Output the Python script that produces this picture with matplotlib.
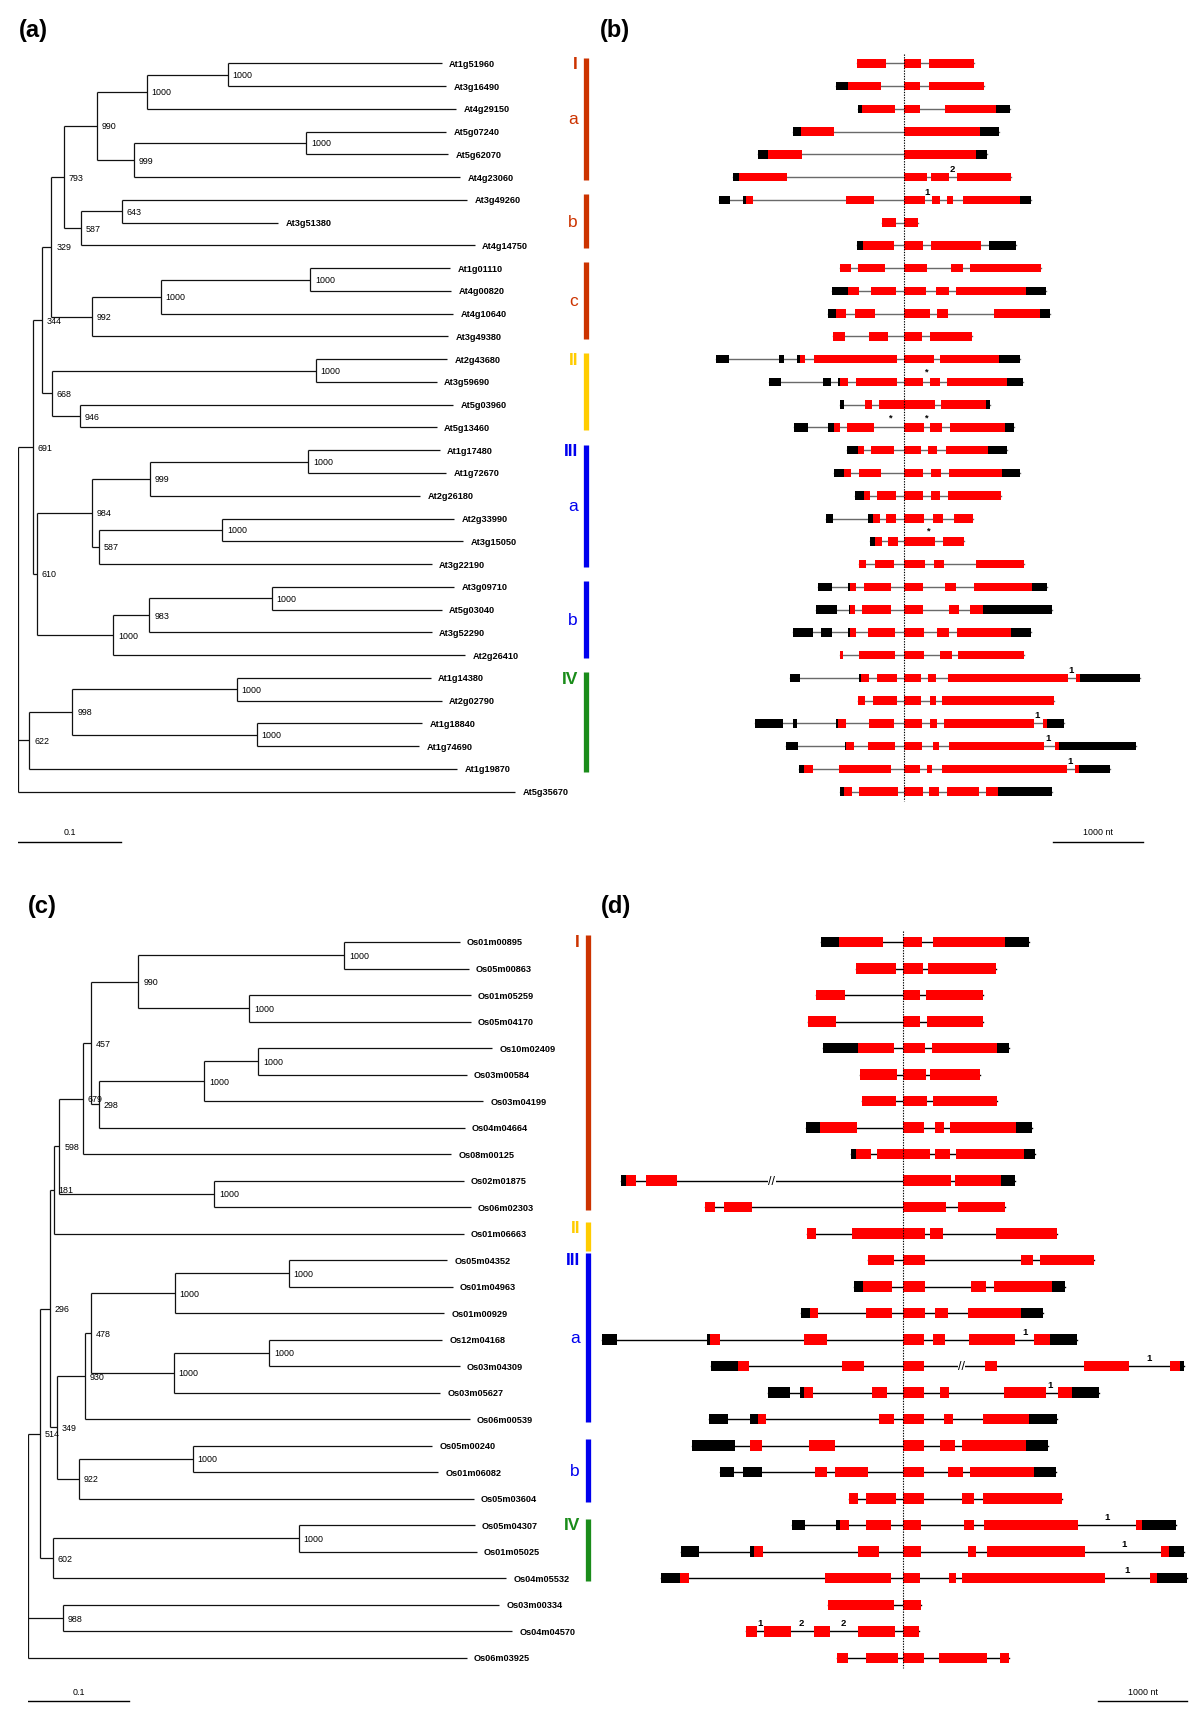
import matplotlib.pyplot as plt

plt.rcParams['font.family'] = ['Liberation Sans', 'DejaVu Sans']

# ---------------- data: Arabidopsis tree (a) ----------------
a_leaves = ['At1g51960', 'At3g16490', 'At4g29150', 'At5g07240', 'At5g62070', 'At4g23060',
            'At3g49260', 'At3g51380', 'At4g14750', 'At1g01110', 'At4g00820', 'At4g10640',
            'At3g49380', 'At2g43680', 'At3g59690', 'At5g03960', 'At5g13460', 'At1g17480',
            'At1g72670', 'At2g26180', 'At2g33990', 'At3g15050', 'At3g22190', 'At3g09710',
            'At5g03040', 'At3g52290', 'At2g26410', 'At1g14380', 'At2g02790', 'At1g18840',
            'At1g74690', 'At1g19870', 'At5g35670']
# distance from root of each leaf tip
a_tips = [0.414, 0.418, 0.428, 0.418, 0.420, 0.432, 0.439, 0.254, 0.446, 0.422, 0.423,
          0.425, 0.420, 0.419, 0.409, 0.425, 0.409, 0.412, 0.418, 0.393, 0.426, 0.435,
          0.404, 0.426, 0.414, 0.404, 0.437, 0.403, 0.414, 0.395, 0.392, 0.429, 0.486]
# internal nodes: (id, distance from root, children, bootstrap)
a_nodes = [
    ('n1', 0.2047, ['At1g51960', 'At3g16490'], '1000'),
    ('n2', 0.1254, ['n1', 'At4g29150'], '1000'),
    ('n3', 0.2814, ['At5g07240', 'At5g62070'], '1000'),
    ('n4', 0.1130, ['n3', 'At4g23060'], '999'),
    ('n5', 0.0771, ['n2', 'n4'], '990'),
    ('n6', 0.1011, ['At3g49260', 'At3g51380'], '643'),
    ('n7', 0.0610, ['n6', 'At4g14750'], '587'),
    ('n8', 0.0442, ['n5', 'n7'], '793'),
    ('n9', 0.2855, ['At1g01110', 'At4g00820'], '1000'),
    ('n10', 0.1392, ['n9', 'At4g10640'], '1000'),
    ('n11', 0.0722, ['n10', 'At3g49380'], '992'),
    ('n12', 0.0323, ['n8', 'n11'], '329'),
    ('n13', 0.2907, ['At2g43680', 'At3g59690'], '1000'),
    ('n14', 0.0599, ['At5g03960', 'At5g13460'], '946'),
    ('n15', 0.0329, ['n13', 'n14'], '668'),
    ('n16', 0.0233, ['n12', 'n15'], '344'),
    ('n17', 0.2833, ['At1g17480', 'At1g72670'], '1000'),
    ('n18', 0.1287, ['n17', 'At2g26180'], '999'),
    ('n19', 0.1991, ['At2g33990', 'At3g15050'], '1000'),
    ('n20', 0.0786, ['n19', 'At3g22190'], '587'),
    ('n21', 0.0722, ['n18', 'n20'], '984'),
    ('n22', 0.2477, ['At3g09710', 'At5g03040'], '1000'),
    ('n23', 0.1281, ['n22', 'At3g52290'], '983'),
    ('n24', 0.0929, ['n23', 'At2g26410'], '1000'),
    ('n25', 0.0184, ['n21', 'n24'], '610'),
    ('n26', 0.0140, ['n16', 'n25'], '691'),
    ('n27', 0.2137, ['At1g14380', 'At2g02790'], '1000'),
    ('n28', 0.2331, ['At1g18840', 'At1g74690'], '1000'),
    ('n29', 0.0528, ['n27', 'n28'], '998'),
    ('n30', 0.0109, ['n29', 'At1g19870'], '622'),
    ('root', 0.0, ['n26', 'n30', 'At5g35670'], ''),
]
# clades: (main label, sub label, first leaf, last leaf, colour key)
a_clades = [('I', 'a', 0, 5, 'I'), ('', 'b', 6, 8, 'I'), ('', 'c', 9, 12, 'I'),
            ('II', '', 13, 16, 'II'), ('III', 'a', 17, 22, 'III'), ('', 'b', 23, 26, 'III'),
            ('IV', '', 27, 31, 'IV')]

# ---------------- data: Arabidopsis gene structures (b) ----------------
# exon blocks in nt relative to the conserved intron (dotted line); c = coding, u = UTR
b_genes = [
    [(-525, -196, 'c'), (0, 190, 'c'), (280, 780, 'c')],
    [(-760, -620, 'u'), (-620, -260, 'c'), (0, 175, 'c'), (280, 885, 'c')],
    [(-510, -465, 'u'), (-465, -95, 'c'), (0, 175, 'c'), (460, 1020, 'c'), (1020, 1180, 'u')],
    [(-1230, -1140, 'u'), (-1140, -780, 'c'), (0, 845, 'c'), (845, 1055, 'u')],
    [(-1625, -1515, 'u'), (-1515, -1130, 'c'), (0, 800, 'c'), (800, 925, 'u')],
    [(-1900, -1830, 'u'), (-1830, -1300, 'c'), (0, 255, 'c'), (300, 505, 'c'), (585, 1190, 'c')],
    [(-2055, -1930, 'u'), (-1790, -1755, 'u'), (-1755, -1675, 'c'), (-650, -330, 'c'), (0, 230, 'c'),
     (310, 400, 'c'), (475, 540, 'c'), (650, 1285, 'c'), (1285, 1410, 'u')],
    [(-240, -85, 'c'), (0, 160, 'c')],
    [(-525, -460, 'u'), (-460, -115, 'c'), (0, 215, 'c'), (300, 860, 'c'), (940, 1240, 'u')],
    [(-715, -590, 'c'), (-510, -210, 'c'), (0, 255, 'c'), (520, 660, 'c'), (730, 1520, 'c')],
    [(-800, -620, 'u'), (-620, -500, 'c'), (-370, -85, 'c'), (0, 245, 'c'), (360, 500, 'c'),
     (580, 1355, 'c'), (1355, 1580, 'u')],
    [(-840, -755, 'u'), (-755, -640, 'c'), (-545, -320, 'c'), (0, 285, 'c'), (365, 490, 'c'),
     (1000, 1510, 'c'), (1510, 1620, 'u')],
    [(-790, -655, 'c'), (-390, -175, 'c'), (0, 200, 'c'), (290, 760, 'c')],
    [(-2090, -1940, 'u'), (-1390, -1330, 'u'), (-1190, -1160, 'u'), (-1160, -1095, 'c'), (-995, -80, 'c'),
     (0, 330, 'c'), (400, 1055, 'c'), (1055, 1290, 'u')],
    [(-1500, -1370, 'u'), (-900, -810, 'u'), (-735, -710, 'u'), (-710, -625, 'c'), (-535, -75, 'c'),
     (0, 215, 'c'), (290, 405, 'c'), (475, 1145, 'c'), (1145, 1320, 'u')],
    [(-715, -665, 'u'), (-435, -360, 'c'), (-275, 345, 'c'), (410, 915, 'c'), (915, 960, 'u')],
    [(-1225, -1070, 'u'), (-840, -780, 'u'), (-780, -710, 'c'), (-630, -330, 'c'), (0, 220, 'c'),
     (290, 425, 'c'), (510, 1120, 'c'), (1120, 1220, 'u')],
    [(-630, -510, 'u'), (-510, -445, 'c'), (-370, -115, 'c'), (0, 185, 'c'), (265, 370, 'c'),
     (465, 935, 'c'), (935, 1140, 'u')],
    [(-775, -665, 'u'), (-665, -590, 'c'), (-505, -260, 'c'), (0, 215, 'c'), (300, 410, 'c'),
     (505, 1090, 'c'), (1090, 1290, 'u')],
    [(-545, -445, 'u'), (-445, -380, 'c'), (-295, -85, 'c'), (0, 215, 'c'), (295, 400, 'c'), (485, 1080, 'c')],
    [(-870, -790, 'u'), (-395, -350, 'u'), (-350, -270, 'c'), (-205, -85, 'c'), (0, 225, 'c'),
     (325, 435, 'c'), (555, 770, 'c')],
    [(-380, -325, 'u'), (-325, -250, 'c'), (-175, -65, 'c'), (0, 340, 'c'), (435, 670, 'c')],
    [(-500, -425, 'c'), (-320, -110, 'c'), (0, 230, 'c'), (335, 445, 'c'), (795, 1335, 'c')],
    [(-955, -800, 'u'), (-620, -595, 'u'), (-595, -535, 'c'), (-440, -145, 'c'), (0, 215, 'c'),
     (455, 580, 'c'), (780, 1420, 'c'), (1420, 1590, 'u')],
    [(-975, -745, 'u'), (-615, -600, 'u'), (-600, -550, 'c'), (-470, -150, 'c'), (0, 215, 'c'),
     (500, 615, 'c'), (730, 880, 'c'), (880, 1640, 'u')],
    [(-1230, -1010, 'u'), (-920, -805, 'u'), (-625, -600, 'u'), (-600, -530, 'c'), (-405, -95, 'c'),
     (0, 220, 'c'), (370, 495, 'c'), (585, 1190, 'c'), (1190, 1410, 'u')],
    [(-715, -680, 'c'), (-505, -95, 'c'), (0, 220, 'c'), (405, 530, 'c'), (605, 1335, 'c')],
    [(-1270, -1155, 'u'), (-500, -475, 'u'), (-475, -385, 'c'), (-305, -75, 'c'), (0, 185, 'c'),
     (270, 360, 'c'), (490, 1825, 'c'), (1915, 1955, 'c'), (1955, 2625, 'u')],
    [(-510, -435, 'c'), (-340, -75, 'c'), (0, 185, 'c'), (285, 355, 'c'), (425, 1670, 'c')],
    [(-1655, -1345, 'u'), (-1230, -1185, 'u'), (-760, -735, 'u'), (-735, -650, 'c'), (-385, -110, 'c'),
     (0, 205, 'c'), (290, 365, 'c'), (440, 1445, 'c'), (1540, 1585, 'c'), (1585, 1775, 'u')],
    [(-1315, -1180, 'u'), (-660, -645, 'u'), (-645, -555, 'c'), (-395, -105, 'c'), (0, 200, 'c'),
     (325, 385, 'c'), (505, 1550, 'c'), (1680, 1725, 'c'), (1725, 2580, 'u')],
    [(-1170, -1115, 'u'), (-1115, -1015, 'c'), (-725, -140, 'c'), (0, 175, 'c'), (255, 310, 'c'),
     (425, 1815, 'c'), (1905, 1940, 'c'), (1940, 2285, 'u')],
    [(-710, -665, 'u'), (-665, -580, 'c'), (-500, -65, 'c'), (0, 215, 'c'), (280, 390, 'c'),
     (475, 835, 'c'), (910, 1040, 'c'), (1040, 1640, 'u')],
]
# marks on the gene models: (gene index, nt, text, above/below)
b_marks = [(5, 538, '2', 'up'), (6, 257, '1', 'up'), (13, 243, '*', 'down'),
           (15, -160, '*', 'down'), (15, 248, '*', 'down'), (20, 270, '*', 'down'),
           (27, 1860, '1', 'up'), (29, 1474, '1', 'up'), (30, 1602, '1', 'up'), (31, 1847, '1', 'up')]

# ---------------- data: rice tree (c) ----------------
c_leaves = ['Os01m00895', 'Os05m00863', 'Os01m05259', 'Os05m04170', 'Os10m02409', 'Os03m00584',
            'Os03m04199', 'Os04m04664', 'Os08m00125', 'Os02m01875', 'Os06m02303', 'Os01m06663',
            'Os05m04352', 'Os01m04963', 'Os01m00929', 'Os12m04168', 'Os03m04309', 'Os03m05627',
            'Os06m00539', 'Os05m00240', 'Os01m06082', 'Os05m03604', 'Os05m04307', 'Os01m05025',
            'Os04m05532', 'Os03m00334', 'Os04m04570', 'Os06m03925']
c_tips = [0.427, 0.436, 0.438, 0.438, 0.459, 0.434, 0.450, 0.432, 0.419, 0.431, 0.438, 0.431,
          0.415, 0.420, 0.412, 0.410, 0.427, 0.408, 0.437, 0.400, 0.406, 0.441, 0.442, 0.444,
          0.473, 0.466, 0.479, 0.434]
c_nodes = [
    ('m1', 0.3130, ['Os01m00895', 'Os05m00863'], '1000'),
    ('m2', 0.2190, ['Os01m05259', 'Os05m04170'], '1000'),
    ('m3', 0.1091, ['m1', 'm2'], '990'),
    ('m4', 0.2277, ['Os10m02409', 'Os03m00584'], '1000'),
    ('m5', 0.1740, ['m4', 'Os03m04199'], '1000'),
    ('m6', 0.0697, ['m5', 'Os04m04664'], '298'),
    ('m7', 0.0618, ['m3', 'm6'], '457'),
    ('m8', 0.0539, ['m7', 'Os08m00125'], '679'),
    ('m9', 0.1842, ['Os02m01875', 'Os06m02303'], '1000'),
    ('m10', 0.0307, ['m8', 'm9'], '598'),
    ('m11', 0.0250, ['m10', 'Os01m06663'], '181'),
    ('m12', 0.2580, ['Os05m04352', 'Os01m04963'], '1000'),
    ('m13', 0.1451, ['m12', 'Os01m00929'], '1000'),
    ('m14', 0.2383, ['Os12m04168', 'Os03m04309'], '1000'),
    ('m15', 0.1440, ['m14', 'Os03m05627'], '1000'),
    ('m16', 0.0618, ['m13', 'm15'], '478'),
    ('m17', 0.0561, ['m16', 'Os06m00539'], '930'),
    ('m18', 0.1630, ['Os05m00240', 'Os01m06082'], '1000'),
    ('m19', 0.0500, ['m18', 'Os05m03604'], '922'),
    ('m20', 0.0280, ['m17', 'm19'], '349'),
    ('m21', 0.0213, ['m11', 'm20'], '296'),
    ('m22', 0.2679, ['Os05m04307', 'Os01m05025'], '1000'),
    ('m23', 0.0243, ['m22', 'Os04m05532'], '602'),
    ('m24', 0.0114, ['m21', 'm23'], '514'),
    ('m25', 0.0342, ['Os03m00334', 'Os04m04570'], '988'),
    ('root', 0.0, ['m24', 'm25', 'Os06m03925'], ''),
]
c_clades = [('I', '', 0, 10, 'I'), ('II', '', 11, 11, 'II'), ('III', 'a', 12, 18, 'III'),
            ('', 'b', 19, 21, 'III'), ('IV', '', 22, 24, 'IV')]

# ---------------- data: rice gene structures (d) ----------------
d_genes = [
    [(-915, -715, 'u'), (-715, -225, 'c'), (0, 220, 'c'), (340, 1150, 'c'), (1150, 1425, 'u')],
    [(-525, -70, 'c'), (0, 225, 'c'), (290, 1045, 'c')],
    [(-970, -650, 'c'), (0, 190, 'c'), (260, 900, 'c')],
    [(-1060, -750, 'c'), (0, 190, 'c'), (270, 905, 'c')],
    [(-890, -500, 'u'), (-500, -100, 'c'), (0, 250, 'c'), (335, 1065, 'c'), (1065, 1195, 'u')],
    [(-480, -60, 'c'), (0, 260, 'c'), (305, 865, 'c')],
    [(-455, -70, 'c'), (0, 275, 'c'), (340, 1060, 'c')],
    [(-1085, -930, 'u'), (-930, -510, 'c'), (0, 240, 'c'), (365, 470, 'c'), (535, 1275, 'c'), (1275, 1455, 'u')],
    [(-580, -525, 'u'), (-525, -350, 'c'), (-290, 305, 'c'), (360, 535, 'c'), (600, 1365, 'c'), (1365, 1490, 'u')],
    [(-3160, -3110, 'u'), (-3110, -3000, 'c'), (-2880, -2530, 'c'), (0, 540, 'c'), (585, 1100, 'c'), (1100, 1260, 'u')],
    [(-2225, -2105, 'c'), (-2005, -1690, 'c'), (0, 485, 'c'), (625, 1155, 'c')],
    [(-1070, -975, 'c'), (-570, 250, 'c'), (310, 450, 'c'), (1045, 1735, 'c')],
    [(-390, -100, 'c'), (0, 250, 'c'), (1330, 1465, 'c'), (1540, 2155, 'c')],
    [(-545, -440, 'u'), (-440, -115, 'c'), (0, 250, 'c'), (765, 940, 'c'), (1025, 1680, 'c'), (1680, 1820, 'u')],
    [(-1145, -1040, 'u'), (-1040, -955, 'c'), (-415, -115, 'c'), (0, 250, 'c'), (360, 505, 'c'),
     (735, 1330, 'c'), (1330, 1575, 'u')],
    [(-3380, -3210, 'u'), (-2200, -2160, 'u'), (-2160, -2055, 'c'), (-1105, -855, 'c'), (0, 245, 'c'),
     (345, 480, 'c'), (745, 1265, 'c'), (1480, 1655, 'c'), (1655, 1960, 'u')],
    [(-2155, -1845, 'u'), (-1845, -1730, 'c'), (-685, -430, 'c'), (0, 245, 'c'), (925, 1060, 'c'),
     (2040, 2540, 'c'), (3005, 3115, 'c'), (3115, 3160, 'u')],
    [(-1515, -1270, 'u'), (-1155, -1110, 'u'), (-1110, -1010, 'c'), (-345, -170, 'c'), (0, 245, 'c'),
     (415, 525, 'c'), (1140, 1610, 'c'), (1745, 1900, 'c'), (1900, 2210, 'u')],
    [(-2170, -1965, 'u'), (-1710, -1625, 'u'), (-1625, -1540, 'c'), (-265, -95, 'c'), (0, 245, 'c'),
     (465, 570, 'c'), (900, 1415, 'c'), (1415, 1730, 'u')],
    [(-2370, -1885, 'u'), (-1710, -1575, 'c'), (-1050, -755, 'c'), (0, 245, 'c'), (415, 585, 'c'),
     (665, 1385, 'c'), (1385, 1635, 'u')],
    [(-2050, -1900, 'u'), (-1790, -1580, 'u'), (-985, -855, 'c'), (-755, -390, 'c'), (0, 245, 'c'),
     (505, 675, 'c'), (755, 1475, 'c'), (1475, 1725, 'u')],
    [(-600, -500, 'c'), (-410, -70, 'c'), (0, 235, 'c'), (670, 805, 'c'), (900, 1790, 'c')],
    [(-1240, -1095, 'u'), (-745, -705, 'u'), (-705, -600, 'c'), (-415, -135, 'c'), (0, 205, 'c'),
     (695, 800, 'c'), (915, 1975, 'c'), (2620, 2695, 'c'), (2695, 3070, 'u')],
    [(-2490, -2285, 'u'), (-1715, -1670, 'u'), (-1670, -1570, 'c'), (-500, -260, 'c'), (0, 205, 'c'),
     (740, 820, 'c'), (950, 2055, 'c'), (2905, 2995, 'c'), (2995, 3160, 'u')],
    [(-2715, -2505, 'u'), (-2505, -2405, 'c'), (-870, -130, 'c'), (0, 200, 'c'), (520, 600, 'c'),
     (665, 2270, 'c'), (2775, 2860, 'c'), (2860, 3195, 'u')],
    [(-835, -100, 'c'), (0, 205, 'c')],
    [(-1760, -1635, 'c'), (-1555, -1255, 'c'), (-990, -815, 'c'), (-500, -85, 'c'), (0, 180, 'c')],
    [(-735, -615, 'c'), (-415, -55, 'c'), (0, 245, 'c'), (405, 950, 'c'), (1090, 1195, 'c')],
]
d_marks = [(15, 1378, '1', 'up'), (16, 2773, '1', 'up'), (17, 1662, '1', 'up'),
           (22, 2297, '1', 'up'), (23, 2493, '1', 'up'), (24, 2520, '1', 'up'),
           (26, -1604, '1', 'up'), (26, -1133, '2', 'up'), (26, -662, '2', 'up')]
# broken (shortened) introns: (gene index, nt)
d_breaks = [(9, -1470), (16, 662)]

clade_colors = {'I': '#CC3300', 'II': '#FFCC00', 'III': '#0000EE', 'IV': '#1A8C1A'}

# ---------------- layout (pixels of the 1200 x 1715 figure) ----------------
W, H = 1200, 1715
fig = plt.figure(figsize=(W / 100, H / 100), dpi=100)


def px_axes(left, top, right, bottom):
    ax = fig.add_axes([left / W, 1 - bottom / H, (right - left) / W, (bottom - top) / H])
    ax.axis('off')
    return ax


def draw_tree(ax, leaves, tips, nodes):
    pos = {}
    for i, (name, x) in enumerate(zip(leaves, tips)):
        pos[name] = (x, i)
        ax.annotate(name, (x, i), xytext=(5.3, 0), textcoords='offset points',
                    va='center', ha='left', fontsize=6.6, fontweight='bold')
    for name, depth, kids, support in nodes:
        ys = [pos[k][1] for k in kids]
        ax.plot([depth, depth], [min(ys), max(ys)], color='#111111', lw=0.9, solid_capstyle='butt')
        for k in kids:
            ax.plot([depth, pos[k][0]], [pos[k][1], pos[k][1]], color='#111111', lw=0.9,
                    solid_capstyle='butt')
        ymid = (min(ys) + max(ys)) / 2
        pos[name] = (depth, ymid)
        if support:
            ax.annotate(support, (depth, ymid), xytext=(3.5, 0), textcoords='offset points',
                        va='center', ha='left', fontsize=6.4)


def draw_clades(ax, clades, xbar, xtext):
    for main, sub, first, last, key in clades:
        col = clade_colors[key]
        if first == last:
            y0, y1 = first - 0.45, last + 0.65
        else:
            y0, y1 = first - 0.25, last + 0.12
        ax.plot([xbar, xbar], [y0, y1], color=col, lw=3.8, solid_capstyle='butt')
        if main:
            ax.text(xtext, y0 - 0.05, main, color=col, fontsize=12.5, fontweight='bold',
                    ha='right', va='top')
        if sub:
            ax.text(xtext, (y0 + y1) / 2, sub, color=col, fontsize=12.5, ha='right', va='center')


def draw_genes(ax, genes, box_h, line_col, marks, up, down):
    for i, gene in enumerate(genes):
        lo = min(s for s, e, k in gene)
        hi = max(e for s, e, k in gene)
        ax.plot([lo, hi], [i, i], color=line_col, lw=1.0, zorder=1)
        red = [(s, e - s) for s, e, k in gene if k == 'c']
        blk = [(s, e - s) for s, e, k in gene if k == 'u']
        ax.broken_barh(red, (i - box_h / 2, box_h), facecolors='#FF0000', edgecolor='none', zorder=2)
        ax.broken_barh(blk, (i - box_h / 2, box_h), facecolors='#000000', edgecolor='none', zorder=2)
    for i, x, t, where in marks:
        y = i - up if where == 'up' else i + down
        ax.text(x, y, t, fontsize=6.8, fontweight='bold', ha='center', va='center', zorder=4)
    ax.plot([0, 0], [-0.4, len(genes) - 0.6], color='black', lw=0.8,
            linestyle=(0, (1.2, 1.2)), zorder=3)


# ----- panel (a) -----
A_TOP, A_BOT, A_Y0, A_DY = 40, 860, 64.3, 22.76
A_ROOT, A_PPU = 18.3, 1023.0
ax_a = px_axes(A_ROOT, A_TOP, 620, A_BOT)
ax_a.set_xlim(0, (620 - A_ROOT) / A_PPU)
ax_a.set_ylim((A_BOT - A_Y0) / A_DY, (A_TOP - A_Y0) / A_DY)
draw_tree(ax_a, a_leaves, a_tips, a_nodes)
draw_clades(ax_a, a_clades, (585.5 - A_ROOT) / A_PPU, (578 - A_ROOT) / A_PPU)
ax_a.plot([0, 0.1], [(842.7 - A_Y0) / A_DY] * 2, color='black', lw=1.0)
ax_a.text(0.05, (832.7 - A_Y0) / A_DY, '0.1', fontsize=6.4, ha='center', va='center')

# ----- panel (b) -----
B_ZERO, B_PPN = 904.0, 0.09
ax_b = px_axes(600, A_TOP, 1200, A_BOT)
ax_b.set_xlim((600 - B_ZERO) / B_PPN, (1200 - B_ZERO) / B_PPN)
ax_b.set_ylim(ax_a.get_ylim())
draw_genes(ax_b, b_genes, 8.5 / A_DY, '#6a6a6a', b_marks, 8.5 / A_DY, 12 / A_DY)
ax_b.plot([1659, 2659], [(842.7 - A_Y0) / A_DY] * 2, color='black', lw=1.0)
ax_b.text(2159, (832.7 - A_Y0) / A_DY, '1000 nt', fontsize=6.4, ha='center', va='center')

# ----- panel (c) -----
C_TOP, C_BOT, C_Y0, C_DY = 880, 1715, 943.0, 26.51
C_ROOT, C_PPU = 28.3, 1010.0
ax_c = px_axes(C_ROOT, C_TOP, 620, C_BOT)
ax_c.set_xlim(0, (620 - C_ROOT) / C_PPU)
ax_c.set_ylim((C_BOT - C_Y0) / C_DY, (C_TOP - C_Y0) / C_DY)
draw_tree(ax_c, c_leaves, c_tips, c_nodes)
draw_clades(ax_c, c_clades, (587.5 - C_ROOT) / C_PPU, (580 - C_ROOT) / C_PPU)
ax_c.plot([0, 0.1], [(1702.3 - C_Y0) / C_DY] * 2, color='black', lw=1.0)
ax_c.text(0.05, (1692.5 - C_Y0) / C_DY, '0.1', fontsize=6.4, ha='center', va='center')

# ----- panel (d) -----
D_ZERO, D_PPN = 902.6, 0.089
ax_d = px_axes(600, C_TOP, 1200, C_BOT)
ax_d.set_xlim((600 - D_ZERO) / D_PPN, (1200 - D_ZERO) / D_PPN)
ax_d.set_ylim(ax_c.get_ylim())
draw_genes(ax_d, d_genes, 10.5 / C_DY, 'black', d_marks, 8.5 / C_DY, 12 / C_DY)
for i, x in d_breaks:
    ax_d.text(x, i, '//', fontsize=9, ha='center', va='center', zorder=4,
              bbox=dict(facecolor='white', edgecolor='none', pad=0.2))
ax_d.plot([2196, 3196], [(1702.3 - C_Y0) / C_DY] * 2, color='black', lw=1.0)
ax_d.text(2696, (1692.3 - C_Y0) / C_DY, '1000 nt', fontsize=6.4, ha='center', va='center')

# panel letters
for label, x, y in [('(a)', 19, 30), ('(b)', 600, 30), ('(c)', 28, 907), ('(d)', 601, 907)]:
    fig.text(x / W, 1 - y / H, label, fontsize=17, fontweight='bold', ha='left', va='center')

fig.savefig('out.png', dpi=100, facecolor='white')
